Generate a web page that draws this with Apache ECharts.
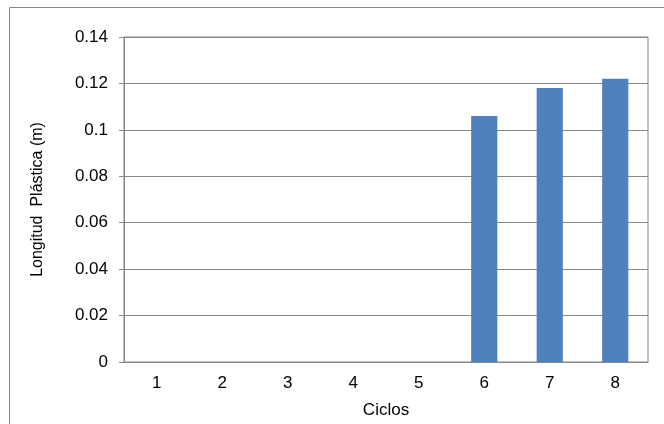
<!DOCTYPE html>
<html>
<head>
<meta charset="utf-8">
<script src="https://cdn.jsdelivr.net/npm/echarts@6/dist/echarts.min.js"></script>
<style>
  html, body { margin: 0; padding: 0; background: #fff; }
  #chart { width: 664px; height: 424px; }
</style>
</head>
<body>
<div id="chart"></div>
<script>
// Plastic hinge length per loading cycle
const ciclos = ['1', '2', '3', '4', '5', '6', '7', '8'];
const longitudPlastica = [0, 0, 0, 0, 0, 0.106, 0.118, 0.122];
const yTicks = [0, 0.02, 0.04, 0.06, 0.08, 0.1, 0.12, 0.14];

const lineGray = '#878787';
const font = 'Liberation Sans, Arial, sans-serif';
const fs = 17;

const chart = echarts.init(document.getElementById('chart'), null, { renderer: 'canvas' });

chart.setOption({
  animation: false,
  backgroundColor: '#ffffff',
  graphic: [{
    type: 'rect',
    shape: { x: 9.5, y: 7.5, width: 700, height: 500 },
    style: { fill: 'none', stroke: lineGray, lineWidth: 1 },
    silent: true
  }],
  grid: {
    left: 124, top: 37, right: 16, bottom: 62,
    show: true, borderColor: lineGray, borderWidth: 1, backgroundColor: 'transparent'
  },
  xAxis: {
    type: 'category',
    data: ciclos,
    name: 'Ciclos',
    nameLocation: 'middle',
    nameGap: 40,
    nameTextStyle: { color: '#000', fontFamily: font, fontSize: fs },
    axisLine: { lineStyle: { color: lineGray, width: 1 } },
    axisTick: { show: false },
    axisLabel: { color: '#000', fontFamily: font, fontSize: fs, margin: 13 }
  },
  yAxis: {
    type: 'value',
    min: 0, max: 0.14, interval: 0.02,
    name: 'Longitud  Plástica (m)',
    nameLocation: 'middle',
    nameGap: 78,
    nameTextStyle: { color: '#000', fontFamily: font, fontSize: 16 },
    axisLine: { show: true, lineStyle: { color: lineGray, width: 1 } },
    axisTick: { show: true, length: 5, lineStyle: { color: lineGray } },
    splitLine: { show: true, lineStyle: { color: lineGray, width: 1 } },
    axisLabel: {
      color: '#000', fontFamily: font, fontSize: fs, margin: 16,
      formatter: v => {
        const hit = yTicks.find(t => Math.abs(t - v) < 1e-9);
        return hit === undefined ? '' : String(+hit.toFixed(2));
      }
    }
  },
  series: [{
    type: 'bar',
    data: longitudPlastica,
    barWidth: '40%',
    itemStyle: { color: '#4F81BD' }
  }]
});
</script>
</body>
</html>
